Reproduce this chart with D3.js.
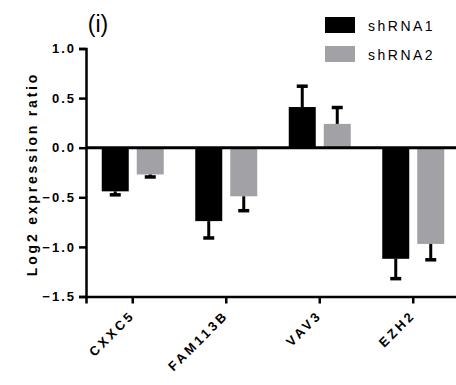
<!DOCTYPE html>
<html><head><meta charset="utf-8">
<script src="https://cdn.jsdelivr.net/npm/d3@7"></script>
<style>body{margin:0;background:#fff}svg{display:block}text{font-family:"Liberation Sans",Arial,sans-serif}</style>
</head><body><svg id="c" width="456" height="385"></svg>
<script>
const categories = ["CXXC5","FAM113B","VAV3","EZH2"];
const seriesNames = ["shRNA1","shRNA2"];
const shRNA1 = [-0.44, -0.74, 0.41, -1.12];
const shRNA1Err = [0.035, 0.17, 0.21, 0.2];
const shRNA2 = [-0.27, -0.49, 0.24, -0.97];
const shRNA2Err = [0.025, 0.145, 0.165, 0.16];
const yTicks = [1.0, 0.5, 0.0, -0.5, -1.0, -1.5];
const colors = ["#000000", "#a2a2a6"];

const svg = d3.select("#c");
const x = d3.scaleBand().domain(categories).range([86, 460]);
const y = d3.scaleLinear().domain([-1.5, 1.0]).range([296.5, 48.5]);
const series = [
  {name: seriesNames[0], vals: shRNA1, err: shRNA1Err, off: -17.5, col: colors[0]},
  {name: seriesNames[1], vals: shRNA2, err: shRNA2Err, off: 17.5, col: colors[1]}
];
const bw = 27;

series.forEach(s => {
  categories.forEach((c, i) => {
    const v = s.vals[i];
    const cx = x(c) + x.bandwidth()/2 + s.off;
    svg.append("rect").attr("x", cx - bw/2).attr("width", bw)
      .attr("y", Math.min(y(v), y(0))).attr("height", Math.abs(y(v) - y(0)))
      .attr("fill", s.col);
    const e = v + (v < 0 ? -s.err[i] : s.err[i]);
    svg.append("line").attr("x1", cx).attr("x2", cx).attr("y1", y(v)).attr("y2", y(e))
      .attr("stroke", "#000").attr("stroke-width", 3);
    svg.append("line").attr("x1", cx - 5.5).attr("x2", cx + 5.5).attr("y1", y(e)).attr("y2", y(e))
      .attr("stroke", "#000").attr("stroke-width", 3.5);
  });
});

// Y axis
const ya = svg.append("g").attr("transform", "translate(86,0)")
  .call(d3.axisLeft(y).tickValues(yTicks).tickFormat(d3.format(".1f")).tickSizeOuter(0).tickSize(7).tickPadding(3));
ya.select(".domain").attr("stroke-width", 2.5);
ya.selectAll(".tick line").attr("stroke-width", 2.5);
ya.selectAll(".tick text").attr("font-size", 13).attr("font-weight", "bold").attr("letter-spacing", 2).attr("fill", "#000");

// X axis
const xa = svg.append("g").attr("transform", "translate(0,296.5)")
  .call(d3.axisBottom(x).tickSizeOuter(0).tickSize(7).tickFormat(""));
xa.select(".domain").attr("stroke-width", 2.5);
xa.selectAll(".tick line").attr("stroke-width", 2.5);
categories.forEach(c => {
  const cx = x(c) + x.bandwidth()/2;
  svg.append("text").attr("transform", `translate(${cx + 3},316) rotate(-45)`)
    .attr("text-anchor", "end").attr("font-size", 13).attr("font-weight", "bold")
    .attr("letter-spacing", 3).text(c);
});

// Zero line
svg.append("line").attr("x1", 86).attr("x2", 456).attr("y1", y(0)).attr("y2", y(0))
  .attr("stroke", "#000").attr("stroke-width", 3);

// Y title
svg.append("text").attr("transform", "translate(37,174) rotate(-90)")
  .attr("text-anchor", "middle").attr("font-size", 14).attr("font-weight", "bold")
  .attr("letter-spacing", 2.8).text("Log2 expression ratio");

// Panel label
svg.append("text").attr("x", 98).attr("y", 32).attr("text-anchor", "middle")
  .attr("font-size", 23).text("(i)");

// Legend
series.forEach((s, i) => {
  svg.append("rect").attr("x", 325).attr("y", 17 + i*29).attr("width", 30).attr("height", 16).attr("fill", s.col);
  svg.append("text").attr("x", 368).attr("y", 31 + i*29).attr("font-size", 14)
    .attr("letter-spacing", 2.5).text(s.name);
});
</script></body></html>
